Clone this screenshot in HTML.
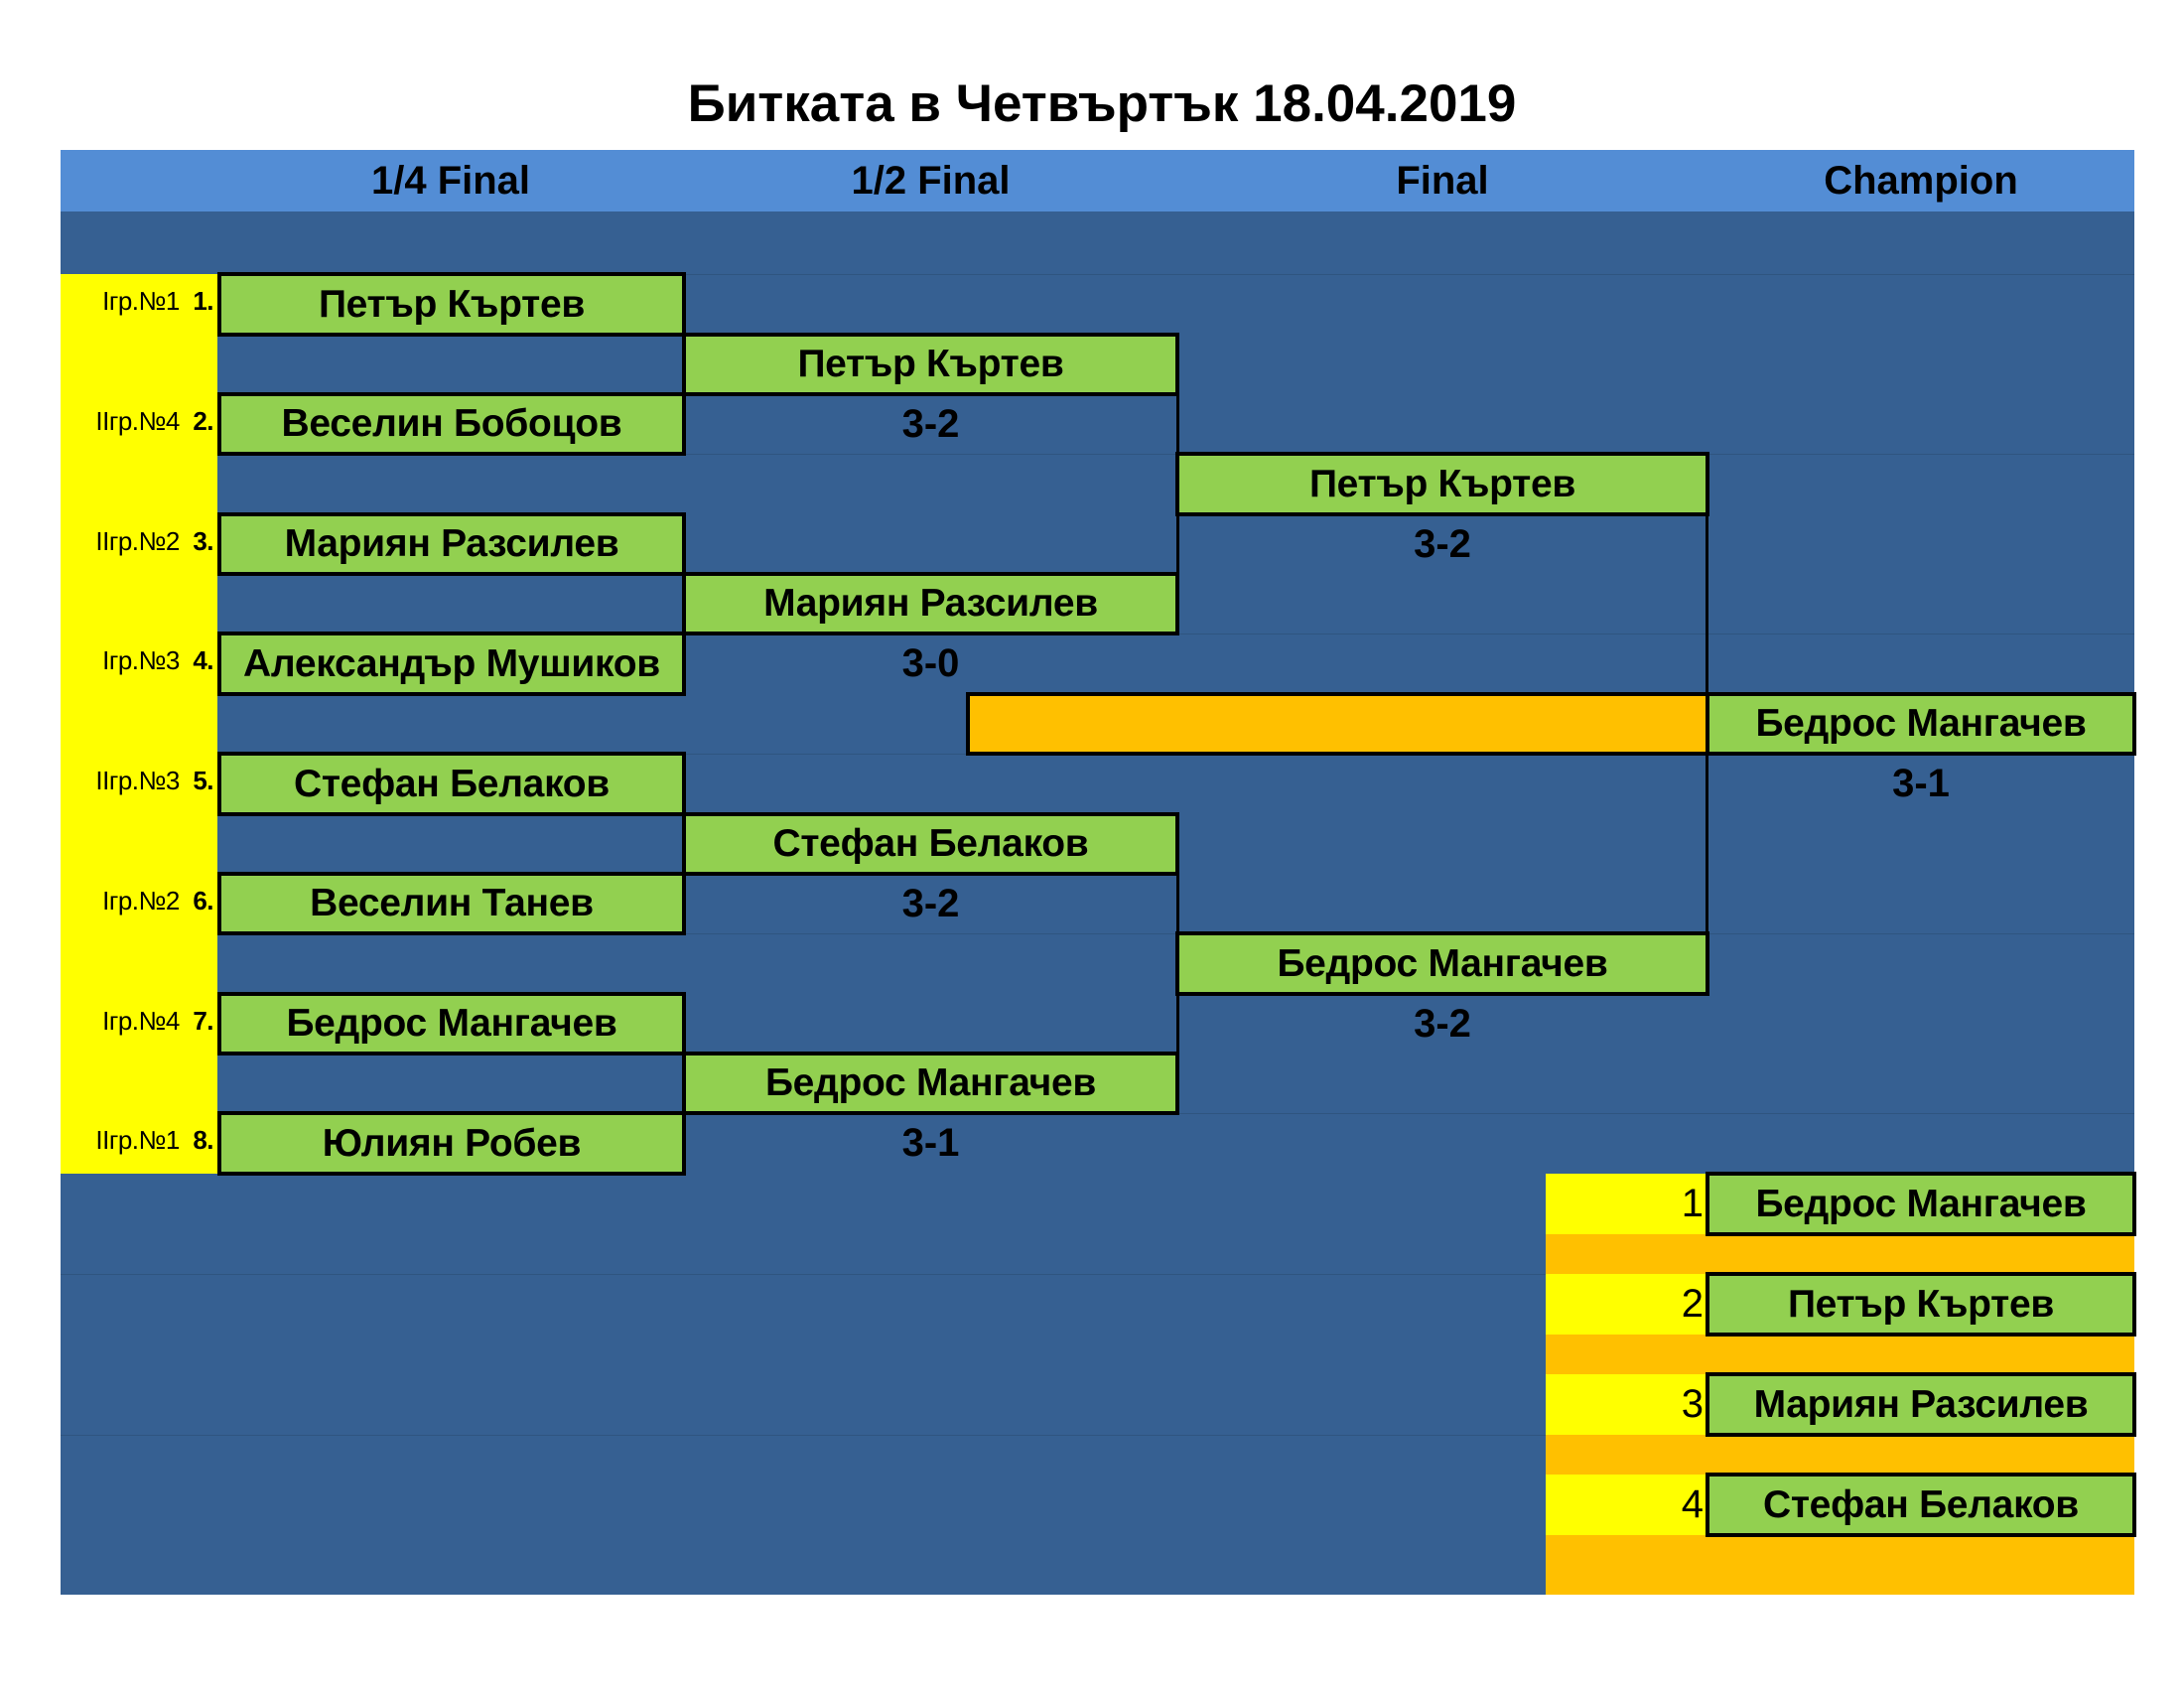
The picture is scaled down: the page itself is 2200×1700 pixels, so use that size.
<!DOCTYPE html>
<html><head><meta charset="utf-8"><style>
body{margin:0;width:2200px;height:1700px;background:#fff;position:relative;overflow:hidden;font-family:"Liberation Sans","Noto Sans CJK SC",sans-serif;}
div{position:absolute;box-sizing:border-box;}
.t{text-align:center;font-weight:bold;color:#000;}
.bx{background:#92d050;border:4px solid #000;text-align:center;font-weight:bold;font-size:39px;display:flex;align-items:center;justify-content:center;white-space:nowrap;letter-spacing:-0.3px;}
.lb{left:61px;width:158px;text-align:right;padding-right:4px;font-size:26px;height:60px;line-height:54px;white-space:nowrap;letter-spacing:-0.5px;}
.sc{font-size:40px;font-weight:bold;text-align:center;height:60px;line-height:60px;}
.hl{left:61px;width:2089px;height:1px;background:#2f5580;}
.vl{background:#000;width:3px;}
.num{font-size:40px;text-align:right;left:1557px;width:159px;height:61px;line-height:61px;}
</style></head><body>
<div class="t" style="left:0;width:2220px;top:75px;font-size:53px;line-height:60px;">Битката в Четвъртък 18.04.2019</div>
<div style="left:61px;top:151px;width:2089px;height:62px;background:#538dd5;"></div>
<div class="t" style="left:219px;width:470px;top:151px;line-height:62px;font-size:40px;">1/4 Final</div>
<div class="t" style="left:689px;width:497px;top:151px;line-height:62px;font-size:40px;">1/2 Final</div>
<div class="t" style="left:1186px;width:534px;top:151px;line-height:62px;font-size:40px;">Final</div>
<div class="t" style="left:1720px;width:430px;top:151px;line-height:62px;font-size:40px;">Champion</div>
<div style="left:61px;top:213px;width:2089px;height:1393px;background:#366092;"></div>
<div class="hl" style="top:276px"></div><div class="hl" style="top:457px"></div><div class="hl" style="top:638px"></div><div class="hl" style="top:759px"></div><div class="hl" style="top:940px"></div><div class="hl" style="top:1121px"></div><div class="hl" style="top:1283px"></div><div class="hl" style="top:1445px"></div>
<div style="left:61px;top:276px;width:158px;height:906px;background:#ffff00;"></div>

<div class="lb" style="top:276px">Iгр.№1 &nbsp;<b>1.</b></div>
<div class="lb" style="top:397px">IIгр.№4 &nbsp;<b>2.</b></div>
<div class="lb" style="top:518px">IIгр.№2 &nbsp;<b>3.</b></div>
<div class="lb" style="top:638px">Iгр.№3 &nbsp;<b>4.</b></div>
<div class="lb" style="top:759px">IIгр.№3 &nbsp;<b>5.</b></div>
<div class="lb" style="top:880px">Iгр.№2 &nbsp;<b>6.</b></div>
<div class="lb" style="top:1001px">Iгр.№4 &nbsp;<b>7.</b></div>
<div class="lb" style="top:1121px">IIгр.№1 &nbsp;<b>8.</b></div>

<div class="bx" style="left:219px;width:472px;top:274px;height:65px;">Петър Къртев</div>
<div class="bx" style="left:219px;width:472px;top:395px;height:64px;">Веселин Бобоцов</div>
<div class="bx" style="left:219px;width:472px;top:516px;height:64px;">Мариян Разсилев</div>
<div class="bx" style="left:219px;width:472px;top:636px;height:65px;">Александър Мушиков</div>
<div class="bx" style="left:219px;width:472px;top:757px;height:65px;">Стефан Белаков</div>
<div class="bx" style="left:219px;width:472px;top:878px;height:64px;">Веселин Танев</div>
<div class="bx" style="left:219px;width:472px;top:999px;height:64px;">Бедрос Мангачев</div>
<div class="bx" style="left:219px;width:472px;top:1119px;height:65px;">Юлиян Робев</div>

<div class="vl" style="left:1185px;top:397px;height:181px;"></div>
<div class="vl" style="left:1185px;top:880px;height:181px;"></div>
<div class="vl" style="left:1718px;top:518px;height:422px;"></div>

<div class="bx" style="left:687px;width:501px;top:335px;height:64px;">Петър Къртев</div>
<div class="bx" style="left:687px;width:501px;top:576px;height:64px;">Мариян Разсилев</div>
<div class="bx" style="left:687px;width:501px;top:818px;height:64px;">Стефан Белаков</div>
<div class="bx" style="left:687px;width:501px;top:1059px;height:64px;">Бедрос Мангачев</div>
<div class="sc" style="left:689px;width:497px;top:397px;">3-2</div>
<div class="sc" style="left:689px;width:497px;top:638px;">3-0</div>
<div class="sc" style="left:689px;width:497px;top:880px;">3-2</div>
<div class="sc" style="left:689px;width:497px;top:1121px;">3-1</div>

<div class="bx" style="left:1184px;width:538px;top:455px;height:65px;">Петър Къртев</div>
<div class="bx" style="left:1184px;width:538px;top:938px;height:65px;">Бедрос Мангачев</div>
<div class="sc" style="left:1186px;width:534px;top:518px;">3-2</div>
<div class="sc" style="left:1186px;width:534px;top:1001px;">3-2</div>

<div style="left:973px;top:697px;width:749px;height:64px;background:#ffc000;border:4px solid #000;"></div>
<div class="bx" style="left:1718px;width:434px;top:697px;height:64px;">Бедрос Мангачев</div>
<div class="sc" style="left:1720px;width:430px;top:759px;">3-1</div>

<div style="left:1557px;top:1182px;width:593px;height:424px;background:#ffc000;"></div>
<div style="left:1557px;top:1182px;width:163px;height:61px;background:#ffff00;"></div>
<div style="left:1557px;top:1283px;width:163px;height:61px;background:#ffff00;"></div>
<div style="left:1557px;top:1384px;width:163px;height:61px;background:#ffff00;"></div>
<div style="left:1557px;top:1485px;width:163px;height:61px;background:#ffff00;"></div>
<div class="num" style="top:1182px">1</div>
<div class="num" style="top:1283px">2</div>
<div class="num" style="top:1384px">3</div>
<div class="num" style="top:1485px">4</div>
<div class="bx" style="left:1718px;width:434px;top:1180px;height:65px;">Бедрос Мангачев</div>
<div class="bx" style="left:1718px;width:434px;top:1281px;height:65px;">Петър Къртев</div>
<div class="bx" style="left:1718px;width:434px;top:1382px;height:65px;">Мариян Разсилев</div>
<div class="bx" style="left:1718px;width:434px;top:1483px;height:65px;">Стефан Белаков</div>
</body></html>
